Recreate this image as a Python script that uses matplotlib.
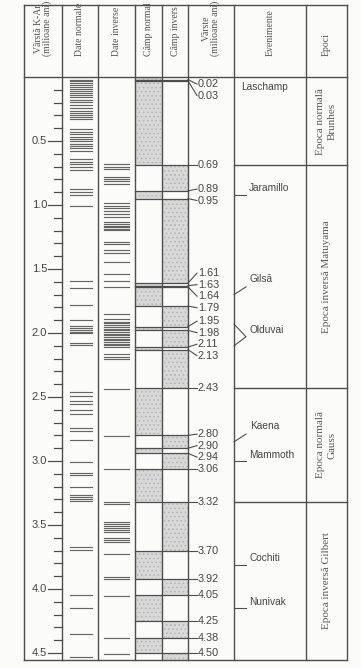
import matplotlib
matplotlib.use("Agg")
import matplotlib.pyplot as plt
import matplotlib.patches as mpatches

# polarity boundaries (Ma); intervals alternate normal / reversed from the top
boundaries = [0.02, 0.03, 0.69, 0.89, 0.95, 1.61, 1.63, 1.64, 1.79, 1.95, 1.98,
              2.11, 2.13, 2.43, 2.80, 2.90, 2.94, 3.06, 3.32, 3.70, 3.92, 4.05,
              4.25, 4.38, 4.50]

# K-Ar dated samples (Ma)
dates_normal = [0.02, 0.035, 0.05, 0.065, 0.08, 0.095, 0.11, 0.125, 0.14, 0.155,
                0.18, 0.198, 0.216, 0.245, 0.263, 0.28, 0.297, 0.315, 0.33,
                0.41, 0.427, 0.445, 0.466, 0.484, 0.503, 0.523, 0.54, 0.557, 0.575,
                0.643, 0.661, 0.68, 0.70, 0.725, 0.877, 0.90, 0.924, 1.005,
                1.59, 1.646, 1.78, 1.898, 1.945, 1.96, 1.975, 1.99, 2.003,
                2.08, 2.096, 2.463, 2.49, 2.528, 2.555, 2.60, 2.633, 2.745, 2.763,
                2.836, 3.005, 3.091, 3.107, 3.201, 3.268, 3.284, 3.30, 3.315,
                3.674, 3.695, 4.047, 4.151, 4.354, 4.529]
dates_reversed = [0.68, 0.70, 0.72, 0.778, 0.797, 0.815, 0.833,
                  0.982, 1.005, 1.026, 1.047, 1.068, 1.091,
                  1.135, 1.148, 1.161, 1.174, 1.188, 1.198, 1.292, 1.307, 1.352, 1.372,
                  1.443, 1.539, 1.591, 1.638, 1.854, 1.893, 1.911, 1.924,
                  1.94, 1.953, 1.966, 1.979, 1.992, 2.005, 2.018, 2.031, 2.044,
                  2.057, 2.07, 2.083, 2.096, 2.107, 2.167, 2.185, 2.206, 2.437,
                  2.802, 3.065, 3.32, 3.338, 3.48, 3.495, 3.51, 3.525, 3.54, 3.552,
                  3.599, 3.617, 3.633, 3.729, 3.904, 3.922, 4.057, 4.385, 4.507]

# events: name, start, end
event_names = ["Laschamp", "Jaramillo", "Gilsă", "Olduvai", "Kaena", "Mammoth",
               "Cochiti", "Nunivak"]
event_start = [0.02, 0.89, 1.61, 1.95, 2.80, 2.94, 3.70, 4.05]
event_end = [0.03, 0.95, 1.79, 2.11, 2.90, 3.06, 3.92, 4.25]

# epochs
epoch_names = ["Epoca normală\nBrunhes", "Epoca inversă Matuyama",
               "Epoca normală\nGauss", "Epoca inversă Gilbert"]
epoch_bounds = [0.0, 0.69, 2.43, 3.32, 4.55]

headers = ["Vârstă K-Ar\n(milioane ani)", "Date normale", "Date inverse",
           "Câmp normal", "Câmp invers", "Vârste\n(milioane ani)", "Evenimente", "Epoci"]

# ---- layout (x in pixels, y in Ma) ----
col_x = [24, 62, 98, 135, 162, 188, 234, 306, 347]
top_age = -0.5625
bottom_age = 4.555
line_col = "#4e4e4e"
text_col = "#444444"
shade = "#d8d8d8"
sans = "Liberation Sans"
serif = "Liberation Serif"

fig = plt.figure(figsize=(3.61, 6.68), dpi=100)
fig.patch.set_facecolor("#fbfbfa")
ax = fig.add_axes([0, 0, 1, 1])
ax.set_xlim(0, 361)
ax.set_ylim((668 - 77) / 128, -77 / 128)
ax.axis("off")
plt.rcParams["hatch.linewidth"] = 0.6

# frame and column lines
for x in col_x:
    ax.plot([x, x], [top_age, bottom_age], color=line_col, lw=1.0)
for y in [top_age, 0.0, bottom_age]:
    ax.plot([col_x[0], col_x[-1]], [y, y], color=line_col, lw=1.0)

# headers, clipped to the header row like the scanned original
header_box = mpatches.Rectangle((col_x[0], top_age), col_x[-1] - col_x[0],
                                -top_age, transform=ax.transData,
                                fill=False, lw=0)
ax.add_patch(header_box)
for i, h in enumerate(headers):
    xc = (col_x[i] + col_x[i + 1]) / 2
    t = ax.text(xc, -0.165, h, rotation=90, ha="center", va="bottom",
                family=serif, fontsize=7, color="#555555", linespacing=1.05)
    t.set_clip_path(header_box)

# age scale
for k in range(1, 46):
    a = k / 10
    major = k % 5 == 0
    ax.plot([col_x[1] - (14 if major else 8), col_x[1]], [a, a], color=line_col, lw=0.9)
    if major:
        ax.text(col_x[1] - 15, a, f"{a:.1f}", ha="right", va="center",
                family=sans, fontsize=8, color=text_col)

# dated samples
for d in dates_normal:
    ax.plot([70, 92], [d, d], color="#666666", lw=0.85)
for d in dates_reversed:
    ax.plot([104, 129], [d, d], color="#666666", lw=0.85)

# polarity columns
edges = [0.0] + boundaries + [bottom_age]
for i in range(len(edges) - 1):
    x0 = col_x[3] if i % 2 == 0 else col_x[4]
    ax.add_patch(mpatches.Rectangle((x0, edges[i]), col_x[4] - col_x[3],
                                    edges[i + 1] - edges[i], facecolor=shade,
                                    edgecolor="#b4b4b4", hatch="....", lw=0))

# boundary labels, spread out so they don't collide
gap = 0.09
pos = list(boundaries)
for _ in range(300):
    pos[0] = max(pos[0], 0.055)
    pos[-1] = min(pos[-1], boundaries[-1])
    for i in range(len(pos) - 1):
        if pos[i + 1] - pos[i] < gap:
            mid = (pos[i] + pos[i + 1]) / 2
            pos[i], pos[i + 1] = mid - gap / 2, mid + gap / 2
for b, p in zip(boundaries, pos):
    ax.plot([col_x[3], col_x[5]], [b, b], color=line_col, lw=0.9)
    ax.plot([col_x[5], 197], [b, p], color=line_col, lw=0.8)
    ax.text(198, p, f"{b:.2f}", ha="left", va="center", family=sans,
            fontsize=7.8, color=text_col)

# events
for name, s, e in zip(event_names, event_start, event_end):
    mid = (s + e) / 2
    if name == "Laschamp":
        ax.text(241, 0.078, name, ha="left", va="center", family=sans,
                fontsize=7.3, color=text_col)
        continue
    if name == "Olduvai":
        ax.plot([col_x[6], 246, col_x[6]], [s - 0.02, mid, e - 0.01],
                color=line_col, lw=0.8)
        ax.text(250, mid - 0.05, name, ha="left", va="center", family=sans,
                fontsize=7.3, color=text_col)
    elif name in ("Gilsă", "Kaena"):
        ax.plot([col_x[6], 246], [mid, mid - 0.06], color=line_col, lw=0.8)
        ax.text(250, mid - 0.12, name, ha="left", va="center", family=sans,
                fontsize=7.3, color=text_col)
    else:
        ax.plot([col_x[6], 246], [mid, mid], color=line_col, lw=0.8)
        ax.text(249, mid - 0.05, name, ha="left", va="center", family=sans,
                fontsize=7.3, color=text_col)

# epochs
for i, name in enumerate(epoch_names):
    if i > 0:
        ax.plot([col_x[6], col_x[8]], [epoch_bounds[i]] * 2, color=line_col, lw=1.0)
    yc = (epoch_bounds[i] + epoch_bounds[i + 1]) / 2
    ax.text((col_x[7] + col_x[8]) / 2, yc, name, rotation=90, ha="center",
            va="center", multialignment="center", family=serif, fontsize=8,
            color="#5a5a5a", linespacing=1.3)

fig.savefig("out.png", dpi=100, facecolor=fig.get_facecolor())
